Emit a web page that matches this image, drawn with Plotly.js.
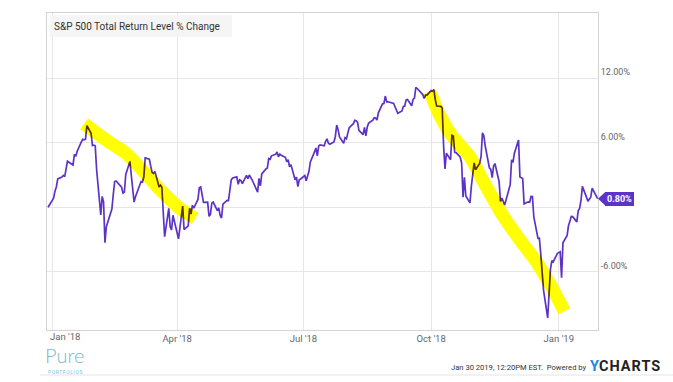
<!DOCTYPE html>
<html><head><meta charset="utf-8">
<script src="https://cdn.plot.ly/plotly-3.0.1.min.js"></script>
<style>
html,body{margin:0;padding:0;background:#fff;}
#chart{width:673px;height:382px;}
.scatterlayer .trace:nth-child(n+2) path.js-line{mix-blend-mode:multiply;}
</style></head><body><div id="chart"></div>
<script>
// ---- data (S&P 500 total return level, % change since 2017-12-29) ----
const dates = [
'2017-12-29',
'2018-01-02','2018-01-03','2018-01-04','2018-01-05','2018-01-08','2018-01-09','2018-01-10','2018-01-11','2018-01-12','2018-01-16','2018-01-17','2018-01-18','2018-01-19','2018-01-22','2018-01-23','2018-01-24','2018-01-25','2018-01-26','2018-01-29','2018-01-30','2018-01-31',
'2018-02-01','2018-02-02','2018-02-05','2018-02-06','2018-02-07','2018-02-08','2018-02-09','2018-02-12','2018-02-13','2018-02-14','2018-02-15','2018-02-16','2018-02-20','2018-02-21','2018-02-22','2018-02-23','2018-02-26','2018-02-27','2018-02-28',
'2018-03-01','2018-03-02','2018-03-05','2018-03-06','2018-03-07','2018-03-08','2018-03-09','2018-03-12','2018-03-13','2018-03-14','2018-03-15','2018-03-16','2018-03-19','2018-03-20','2018-03-21','2018-03-22','2018-03-23','2018-03-26','2018-03-27','2018-03-28','2018-03-29',
'2018-04-02','2018-04-03','2018-04-04','2018-04-05','2018-04-06','2018-04-09','2018-04-10','2018-04-11','2018-04-12','2018-04-13','2018-04-16','2018-04-17','2018-04-18','2018-04-19','2018-04-20','2018-04-23','2018-04-24','2018-04-25','2018-04-26','2018-04-27','2018-04-30',
'2018-05-01','2018-05-02','2018-05-03','2018-05-04','2018-05-07','2018-05-08','2018-05-09','2018-05-10','2018-05-11','2018-05-14','2018-05-15','2018-05-16','2018-05-17','2018-05-18','2018-05-21','2018-05-22','2018-05-23','2018-05-24','2018-05-25','2018-05-29','2018-05-30','2018-05-31',
'2018-06-01','2018-06-04','2018-06-05','2018-06-06','2018-06-07','2018-06-08','2018-06-11','2018-06-12','2018-06-13','2018-06-14','2018-06-15','2018-06-18','2018-06-19','2018-06-20','2018-06-21','2018-06-22','2018-06-25','2018-06-26','2018-06-27','2018-06-28','2018-06-29',
'2018-07-02','2018-07-03','2018-07-05','2018-07-06','2018-07-09','2018-07-10','2018-07-11','2018-07-12','2018-07-13','2018-07-16','2018-07-17','2018-07-18','2018-07-19','2018-07-20','2018-07-23','2018-07-24','2018-07-25','2018-07-26','2018-07-27','2018-07-30','2018-07-31',
'2018-08-01','2018-08-02','2018-08-03','2018-08-06','2018-08-07','2018-08-08','2018-08-09','2018-08-10','2018-08-13','2018-08-14','2018-08-15','2018-08-16','2018-08-17','2018-08-20','2018-08-21','2018-08-22','2018-08-23','2018-08-24','2018-08-27','2018-08-28','2018-08-29','2018-08-30','2018-08-31',
'2018-09-04','2018-09-05','2018-09-06','2018-09-07','2018-09-10','2018-09-11','2018-09-12','2018-09-13','2018-09-14','2018-09-17','2018-09-18','2018-09-19','2018-09-20','2018-09-21','2018-09-24','2018-09-25','2018-09-26','2018-09-27','2018-09-28',
'2018-10-01','2018-10-02','2018-10-03','2018-10-04','2018-10-05','2018-10-08','2018-10-09','2018-10-10','2018-10-11','2018-10-12','2018-10-15','2018-10-16','2018-10-17','2018-10-18','2018-10-19','2018-10-22','2018-10-23','2018-10-24','2018-10-25','2018-10-26','2018-10-29','2018-10-30','2018-10-31',
'2018-11-01','2018-11-02','2018-11-05','2018-11-06','2018-11-07','2018-11-08','2018-11-09','2018-11-12','2018-11-13','2018-11-14','2018-11-15','2018-11-16','2018-11-19','2018-11-20','2018-11-21','2018-11-23','2018-11-26','2018-11-27','2018-11-28','2018-11-29','2018-11-30',
'2018-12-03','2018-12-04','2018-12-06','2018-12-07','2018-12-10','2018-12-11','2018-12-12','2018-12-13','2018-12-14','2018-12-17','2018-12-18','2018-12-19','2018-12-20','2018-12-21','2018-12-24','2018-12-26','2018-12-27','2018-12-28','2018-12-31',
'2019-01-02','2019-01-03','2019-01-04','2019-01-07','2019-01-08','2019-01-09','2019-01-10','2019-01-11','2019-01-14','2019-01-15','2019-01-16','2019-01-17','2019-01-18','2019-01-22','2019-01-23','2019-01-24','2019-01-25','2019-01-28','2019-01-29'
];
const values = [
0.00,
0.85,1.50,1.91,2.64,2.82,2.97,2.85,3.58,4.28,3.94,4.92,4.75,5.22,6.08,6.32,6.27,6.33,7.60,6.89,5.74,5.79,
5.73,3.49,-0.72,1.01,0.51,-3.30,-1.80,-0.42,-0.16,1.19,2.40,2.45,1.87,1.32,1.42,3.05,4.27,2.96,1.82,
0.48,0.99,2.12,2.40,2.35,2.81,4.60,4.48,3.82,3.24,3.16,3.34,1.89,2.05,1.86,-0.68,-2.74,-0.10,-1.81,-2.10,-0.74,
-2.93,-1.70,-0.57,0.12,-2.07,-1.72,-0.09,-0.63,0.19,-0.09,0.73,1.81,1.89,1.32,0.46,0.48,-0.84,-0.66,0.38,0.49,-0.31,
-0.05,-0.76,-1.00,0.29,0.64,0.63,1.59,2.55,2.72,2.83,2.14,2.56,2.48,2.21,2.98,2.66,3.00,2.79,2.56,1.41,2.69,1.99,
3.10,3.57,3.65,4.53,4.47,4.79,4.92,5.15,4.69,4.95,4.85,4.65,4.24,4.42,3.77,3.97,2.56,2.80,1.92,2.55,2.63,
2.96,2.47,3.35,4.22,5.15,5.52,4.78,5.70,5.81,5.72,6.14,6.37,5.96,5.87,6.08,6.59,7.65,7.23,6.55,5.96,6.48,
6.38,6.90,7.40,7.78,8.09,8.06,7.92,7.16,6.76,7.43,6.64,7.47,7.83,8.11,8.33,8.30,8.12,8.79,9.63,9.66,10.35,9.81,9.82,
9.66,9.37,8.98,8.75,8.97,9.38,9.42,9.99,10.03,9.44,10.03,10.17,11.15,11.05,10.62,10.49,10.13,10.44,10.44,
10.86,10.81,10.95,10.01,9.42,9.39,9.24,5.71,3.57,5.03,4.43,6.70,6.63,5.12,5.09,4.66,4.10,0.94,2.79,1.05,0.41,1.97,3.06,
4.14,3.49,4.08,4.73,6.92,6.66,5.70,3.67,3.52,2.76,3.83,4.07,2.38,0.55,0.86,0.22,1.77,2.10,4.41,4.19,5.04,
6.25,2.81,2.67,0.32,0.51,0.48,1.02,1.01,-0.89,-2.89,-2.88,-4.34,-5.81,-7.70,-10.30,-5.76,-4.97,-5.08,-4.28,
-4.14,-6.55,-3.31,-2.63,-1.70,-1.31,-0.86,-0.87,-1.36,-0.32,-0.10,0.65,1.95,0.57,0.79,0.93,1.77,1.01,0.80
];
// hand-drawn yellow highlighter strokes
const highlight1Dates = ['2018-01-24','2018-02-11','2018-02-23','2018-03-20','2018-04-02','2018-04-14'];
const highlight1Values = [7.77, 6.06, 5.04, 1.61, 0.00, -1.04];
const highlight2Dates = ['2018-09-30','2018-10-07','2018-10-16','2018-10-29','2018-11-07','2018-11-21','2018-12-04','2018-12-16','2018-12-28','2019-01-05'];
const highlight2Values = [10.76, 8.61, 6.65, 4.69, 2.55, -0.62, -3.05, -5.10, -7.70, -9.68];
// axes
const yTickVals = [-6, 0, 6, 12];
const yTickText = ['-6.00%', '', '6.00%', '12.00%'];
const xTickVals = ['2018-01-01','2018-04-01','2018-07-01','2018-10-01','2019-01-01'];
const xTickText = ['', "Apr '18", "Jul '18", "Oct '18", "Jan '19"];
const firstTickLabelDate = '2018-01-10';
const firstTickLabelText = "Jan '18";
const chartTitle = 'S&amp;P 500 Total Return Level % Change';
const stampText = 'Jan 30 2019, 12:20PM EST.  Powered by';

const purple = '#5d33c6';
const lastValue = values[values.length - 1];
const fam = 'Roboto, sans-serif';

const traces = [
  {x: dates, y: values, type: 'scatter', mode: 'lines', line: {color: purple, width: 1.7}, hoverinfo: 'skip'},
  {x: highlight1Dates, y: highlight1Values, type: 'scatter', mode: 'lines', line: {color: '#ffff00', width: 13, shape: 'spline', smoothing: 0.8}, hoverinfo: 'skip'},
  {x: highlight2Dates, y: highlight2Values, type: 'scatter', mode: 'lines', line: {color: '#ffff00', width: 13, shape: 'spline', smoothing: 0.8}, hoverinfo: 'skip'}
];

const layout = {
  width: 673, height: 382,
  margin: {l: 47, r: 75, t: 13, b: 52, pad: 0},
  paper_bgcolor: '#ffffff', plot_bgcolor: '#ffffff',
  showlegend: false,
  font: {family: fam, color: '#666'},
  xaxis: {
    type: 'date', range: ['2017-12-28 06:00', '2019-01-29 06:00'],
    tickmode: 'array', tickvals: xTickVals, ticktext: xTickText,
    showgrid: true, gridcolor: '#e6e6e6', gridwidth: 1,
    showline: true, linecolor: '#d4d4d4', linewidth: 1, mirror: true,
    ticks: '', zeroline: false,
    tickfont: {family: fam, size: 9.5, color: '#666'}
  },
  yaxis: {
    side: 'right', range: [-11.42, 18.08],
    tickmode: 'array', tickvals: yTickVals, ticktext: yTickText,
    showgrid: true, gridcolor: '#e6e6e6', gridwidth: 1,
    showline: true, linecolor: '#d4d4d4', linewidth: 1, mirror: true,
    ticks: '', zeroline: false, ticklabelposition: 'outside top',
    tickfont: {family: fam, size: 9, color: '#666'}
  },
  annotations: [
    {xref: 'paper', yref: 'paper', x: 0, y: 1, xanchor: 'left', yanchor: 'top', xshift: 3, yshift: -2,
     text: chartTitle, showarrow: false, align: 'left', width: 174, height: 14, borderpad: 4, borderwidth: 0,
     bgcolor: '#f5f5f5', font: {family: fam, size: 10, color: '#333'}},
    {xref: 'x', yref: 'paper', x: firstTickLabelDate, y: 0, xanchor: 'center', yanchor: 'middle', yshift: -6.5,
     text: firstTickLabelText, showarrow: false, borderpad: 0, font: {family: fam, size: 9.5, color: '#666'}},
    {xref: 'paper', yref: 'y', x: 1, y: lastValue, xanchor: 'left', yanchor: 'middle', xshift: 7,
     text: '<b>' + lastValue.toFixed(2) + '%</b>', showarrow: false, bgcolor: purple, borderpad: 2, borderwidth: 0,
     font: {family: fam, size: 9, color: '#ffffff'}},
    {xref: 'paper', yref: 'paper', x: 1, y: 0, xanchor: 'right', yanchor: 'middle', xshift: -10, yshift: -37,
     text: stampText, showarrow: false, borderpad: 0, font: {family: fam, size: 7.6, color: '#333'}},
    {xref: 'paper', yref: 'paper', x: 1, y: 0, xanchor: 'left', yanchor: 'middle', xshift: -9, yshift: -36,
     text: '<span style="color:#1e88e5">Y</span><span style="letter-spacing:1px">CHARTS</span>', showarrow: false, borderpad: 0,
     font: {family: fam, size: 14.5, color: '#222', weight: 700}},
    {xref: 'paper', yref: 'paper', x: 0, y: 0, xanchor: 'left', yanchor: 'bottom', xshift: -3, yshift: -37.5,
     text: 'Pure', showarrow: false, borderpad: 0, font: {family: 'Lato, sans-serif', size: 20, color: '#7db7ca', weight: 300}},
    {xref: 'paper', yref: 'paper', x: 0, y: 0, xanchor: 'left', yanchor: 'top', xshift: 0, yshift: -37.8,
     text: '<span style="letter-spacing:0.6px">PORTFOLIOS</span>', showarrow: false, borderpad: 0,
     font: {family: fam, size: 5, color: '#72c8e0'}}
  ],
  shapes: [
    {type: 'path', xref: 'paper', xsizemode: 'pixel', xanchor: 1, yref: 'y', ysizemode: 'pixel', yanchor: lastValue,
     path: 'M 0 0 L 7 6.5 L 7 -6.5 Z', fillcolor: purple, line: {width: 0}},
    {type: 'line', xref: 'paper', yref: 'paper', x0: -0.0127, x1: 1.14, y0: -0.142, y1: -0.142,
     line: {color: '#e4e4e4', width: 1}}
  ]
};

Plotly.newPlot('chart', traces, layout, {displayModeBar: false, staticPlot: true});
</script></body></html>
